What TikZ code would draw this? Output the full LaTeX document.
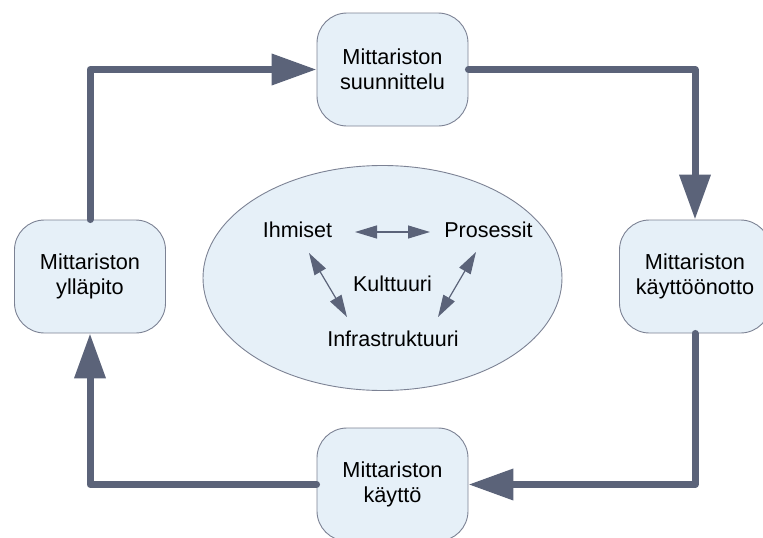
\documentclass[tikz,border=0pt]{standalone}
\usepackage{fontspec}
\setmainfont{Liberation Sans}
\usetikzlibrary{arrows.meta,shapes.geometric}
\definecolor{flow}{HTML}{5B6379}
\definecolor{boxfill}{HTML}{E6F0F8}
\definecolor{boxline}{HTML}{7C8294}
\tikzset{
  phase/.style={draw=boxline, line width=0.9pt, fill=boxfill, rounded corners=30pt,
    minimum width=151pt, minimum height=113pt, align=center, inner sep=0pt,
    font=\fontsize{21.7}{25}\selectfont},
  label/.style={inner sep=0pt, font=\fontsize{21.5}{25}\selectfont},
  cycle/.style={draw=flow, line width=7pt, line cap=round, line join=round,
    -{Triangle[length=45pt,width=30pt]}},
  link/.style={draw=flow, line width=1.2pt,
    {Triangle[length=22pt,width=13pt]}-{Triangle[length=22pt,width=13pt]}}
}
\begin{document}
\begin{tikzpicture}[x=1pt,y=-1pt]
  \useasboundingbox (0,0) rectangle (763,538);
  \clip (0,0) rectangle (763,538);

  % central culture ellipse
  \node[ellipse, draw=boxline, line width=0.9pt, fill=boxfill,
        minimum width=359pt, minimum height=225pt, inner sep=0pt] (culture) at (382.5,278) {};
  \node[label] (ih) at (297.5,230) {Ihmiset};
  \node[label] (pr) at (488.5,230) {Prosessit};
  \node[label] (ku) at (392.5,284) {Kulttuuri};
  \node[label] (in) at (393,339) {Infrastruktuuri};

  \coordinate (ihR) at (355,232);
  \coordinate (prL) at (430,232);
  \coordinate (ihD) at (309,253);
  \coordinate (inL) at (347,317);
  \coordinate (prD) at (476,252);
  \coordinate (inR) at (438,317);
  \draw[link] (ihR) -- (prL);
  \draw[link] (ihD) -- (inL);
  \draw[link] (prD) -- (inR);

  % the four phases
  \node[phase] (plan)  at (392.5,69.5)  {Mittariston\\suunnittelu};
  \node[phase] (setup) at (695,276.5)   {Mittariston\\käyttöönotto};
  \node[phase] (use)   at (392.5,484.5) {Mittariston\\käyttö};
  \node[phase] (keep)  at (90,276.5)    {Mittariston\\ylläpito};

  % cycle connectors
  \draw[cycle] (keep.north) |- (plan.west);
  \draw[cycle] (plan.east) -| (setup.north);
  \draw[cycle] (setup.south) |- (use.east);
  \draw[cycle] (use.west) -| (keep.south);
\end{tikzpicture}
\end{document}
